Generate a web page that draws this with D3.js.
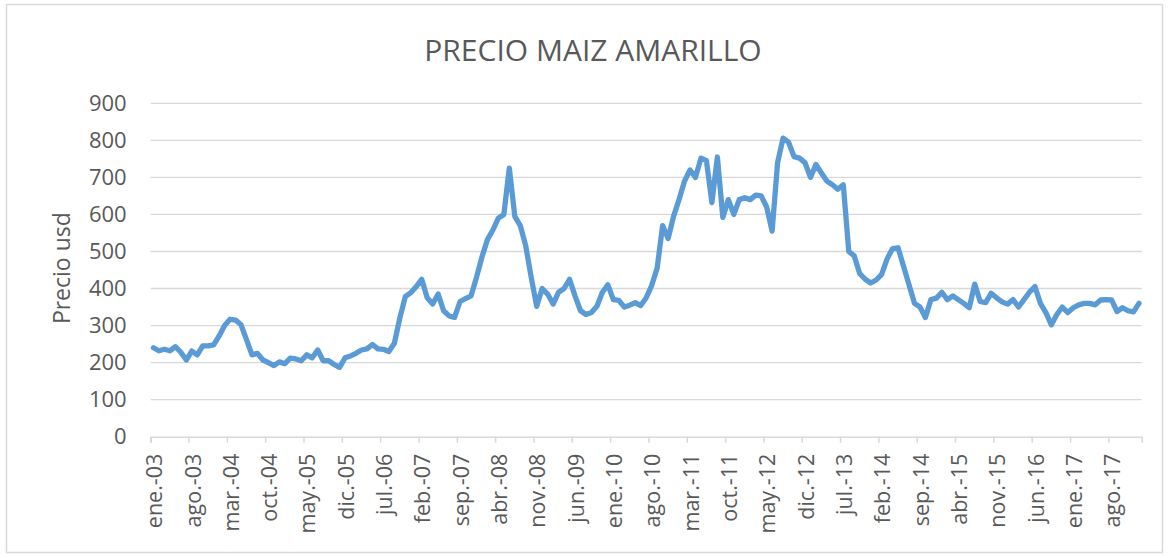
<!DOCTYPE html>
<html>
<head>
<meta charset="utf-8">
<script src="https://cdn.jsdelivr.net/npm/d3@7"></script>
<style>
  body { margin: 0; background: #ffffff; }
  text { font-family: "Open Sans", sans-serif; fill: #595959; }
</style>
</head>
<body>
<div id="chart"></div>
<script>
// Precio maiz amarillo, monthly, ene-03 .. ene-18

const FRAME_WIDTH = 1169;
const FRAME_HEIGHT = 558;
const MARGINS = {left: 150.7, right: 27.3, top: 103.3, bottom: 121.3};

const START_YEAR = 2003;
const MONTH_ABBR = ["ene.", "feb.", "mar.", "abr.", "may.", "jun.",
                    "jul.", "ago.", "sep.", "oct.", "nov.", "dic."];
const TICK_EVERY = 7;
const Y_TICKS = [0, 100, 200, 300, 400, 500, 600, 700, 800, 900];

// values (usd)
const PRICES = [
  240, 232, 236, 232, 243, 228, 207, 231, 221, 245,
  245, 248, 272, 300, 317, 315, 302, 262, 221, 225,
  207, 200, 192, 202, 197, 212, 210, 205, 221, 213,
  234, 205, 205, 195, 187, 213, 218, 225, 234, 237,
  249, 237, 236, 230, 252, 320, 378, 389, 405, 425,
  375, 358, 385, 340, 326, 322, 365, 373, 380, 430,
  485, 532, 558, 590, 600, 725, 595, 570, 515, 430,
  352, 400, 385, 358, 390, 400, 425, 380, 340, 330,
  335, 352, 390, 410, 370, 368, 350, 355, 362, 354,
  375, 408, 455, 570, 535, 595, 640, 690, 720, 700,
  752, 745, 632, 755, 592, 640, 600, 640, 645, 640,
  652, 650, 620, 555, 740, 806, 795, 756, 752, 740,
  700, 735, 712, 690, 680, 668, 680, 500, 488, 440,
  425, 415, 423, 438, 480, 508, 510, 460, 410, 360,
  350, 322, 370, 374, 390, 370, 380, 370, 360, 348,
  412, 365, 362, 387, 375, 364, 358, 370, 350, 370,
  390, 405, 360, 335, 302, 330, 350, 335, 348, 356,
  360, 360, 356, 369, 370, 369, 338, 348, 340, 337, 360
];

const CATEGORIES = PRICES.map((d, i) => {
  const yy = String((START_YEAR + Math.floor(i / 12)) % 100).padStart(2, "0");
  return MONTH_ABBR[i % 12] + "-" + yy;
});
const TICK_CATS = CATEGORIES.filter((c, i) => i % TICK_EVERY === 0);

const SVG = d3.select("#chart")
              .append("svg")
                .attr("width", FRAME_WIDTH)
                .attr("height", FRAME_HEIGHT);

// outer chart border
SVG.append("rect")
    .attr("x", 6.5).attr("y", 4.5)
    .attr("width", 1156).attr("height", 548)
    .attr("fill", "#ffffff")
    .attr("stroke", "#d9d9d9")
    .attr("stroke-width", 1.5);

const X_SCALE = d3.scaleBand()
                  .domain(CATEGORIES)
                  .range([MARGINS.left, FRAME_WIDTH - MARGINS.right])
                  .padding(0);

const Y_SCALE = d3.scaleLinear()
                  .domain([0, 900])
                  .range([FRAME_HEIGHT - MARGINS.bottom, MARGINS.top]);

const BW = X_SCALE.bandwidth();

// gridlines
SVG.append("g")
    .selectAll("line")
    .data(Y_TICKS.filter(d => d > 0))
    .enter()
    .append("line")
      .attr("x1", MARGINS.left)
      .attr("x2", FRAME_WIDTH - MARGINS.right)
      .attr("y1", d => Y_SCALE(d))
      .attr("y2", d => Y_SCALE(d))
      .attr("stroke", "#d9d9d9")
      .attr("stroke-width", 1.3);

// y axis labels
const yAxis = SVG.append("g")
    .attr("transform", "translate(" + (MARGINS.left - 24) + ",0)")
    .call(d3.axisLeft(Y_SCALE).tickValues(Y_TICKS).tickSize(0).tickPadding(0));
yAxis.select(".domain").remove();
yAxis.selectAll("text")
    .attr("font-size", "22px")
    .attr("font-family", "Open Sans")
    .attr("fill", "#595959");

// x axis
const xAxis = SVG.append("g")
    .attr("transform", "translate(0," + Y_SCALE(0) + ")")
    .call(d3.axisBottom(X_SCALE).tickValues(TICK_CATS).tickSizeOuter(0).tickSize(6));
xAxis.select(".domain")
    .attr("stroke", "#d9d9d9")
    .attr("stroke-width", 1.5);
xAxis.selectAll(".tick line")
    .attr("x1", -BW / 2).attr("x2", -BW / 2)
    .attr("stroke", "#d9d9d9")
    .attr("stroke-width", 1.5);
xAxis.selectAll(".tick text")
    .attr("font-size", "21.5px")
    .attr("font-family", "Open Sans")
    .attr("fill", "#595959")
    .attr("text-anchor", "end")
    .attr("transform", "rotate(-90)")
    .attr("x", -17)
    .attr("y", 1)
    .attr("dy", "0.36em");

// price line
const line = d3.line()
               .x((d, i) => X_SCALE(CATEGORIES[i]) + BW / 2)
               .y(d => Y_SCALE(d));

SVG.append("path")
    .datum(PRICES)
    .attr("d", line)
    .attr("fill", "none")
    .attr("stroke", "#5b9bd5")
    .attr("stroke-width", 5.3)
    .attr("stroke-linejoin", "round")
    .attr("stroke-linecap", "round");

// title
SVG.append("text")
    .attr("x", 593)
    .attr("y", 61)
    .attr("text-anchor", "middle")
    .attr("font-size", "30px")
    .text("PRECIO MAIZ AMARILLO");

// y axis title
SVG.append("text")
    .attr("transform", "translate(70," + Y_SCALE(455) + ") rotate(-90)")
    .attr("text-anchor", "middle")
    .attr("font-size", "23px")
    .text("Precio usd");
</script>
</body>
</html>
